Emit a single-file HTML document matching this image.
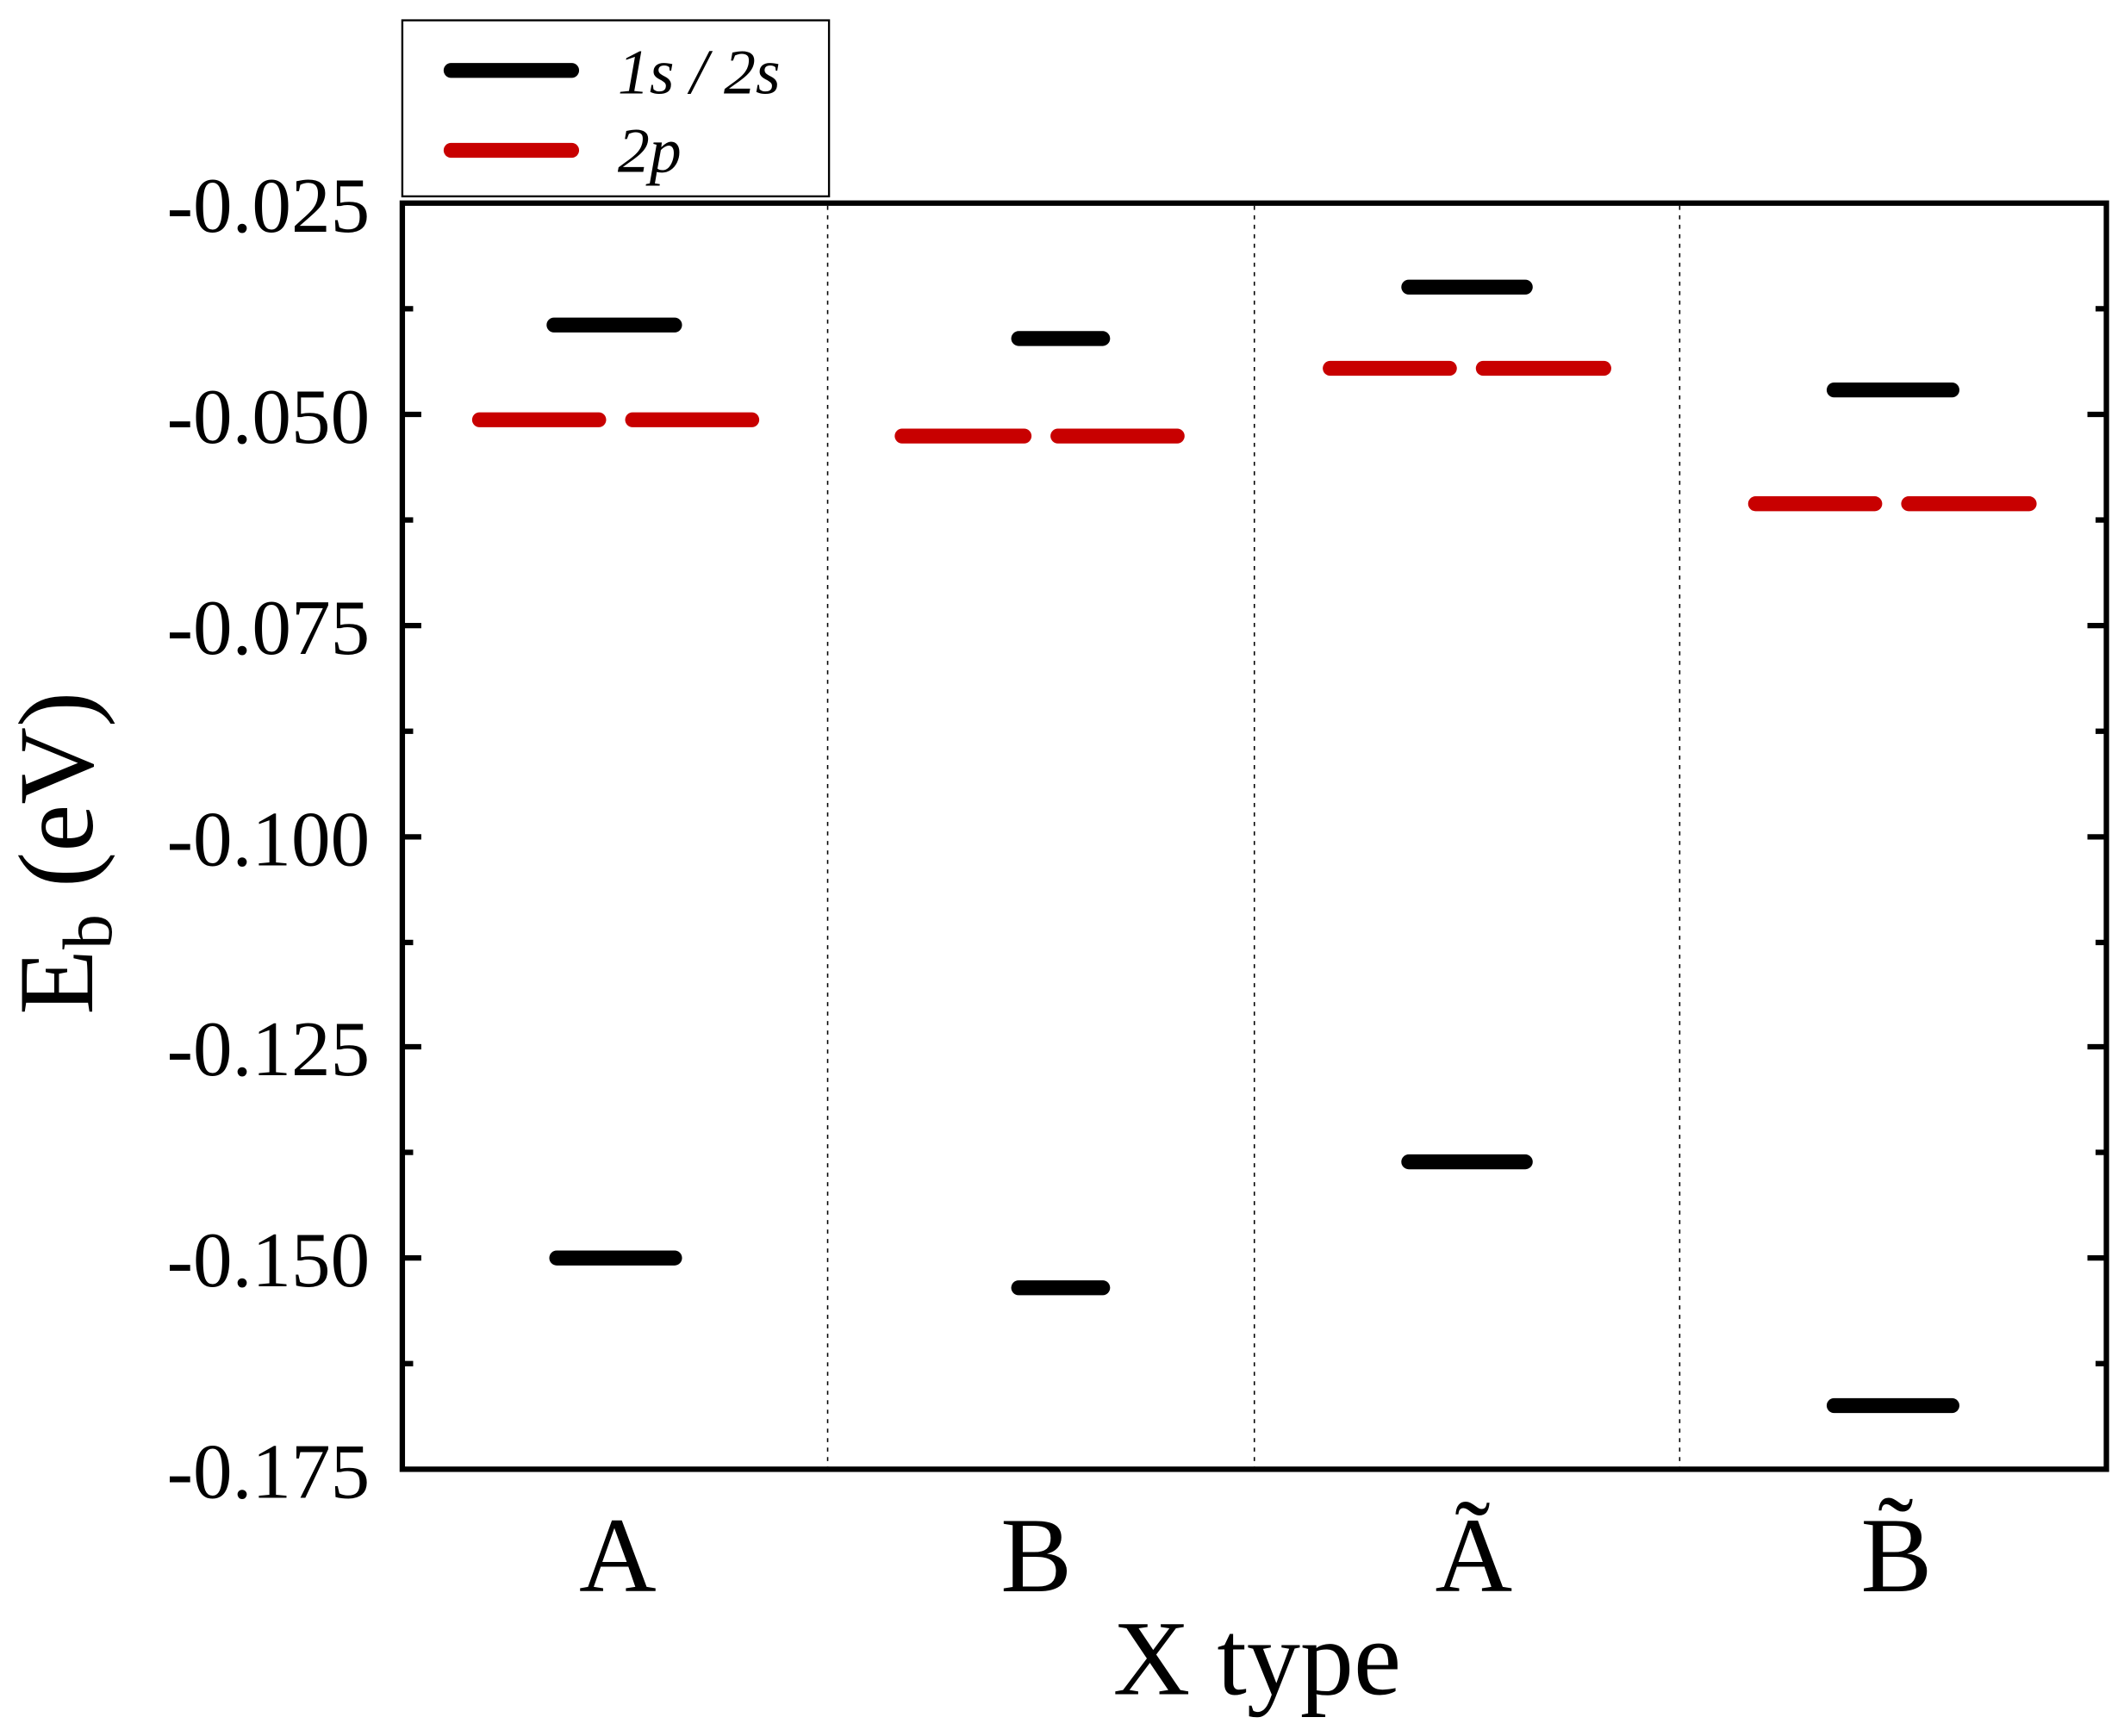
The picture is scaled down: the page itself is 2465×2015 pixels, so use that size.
<!DOCTYPE html>
<html><head><style>html,body{margin:0;padding:0;background:#fff}svg{display:block}</style></head>
<body>
<svg width="2465" height="2015" viewBox="0 0 1568 1282" preserveAspectRatio="none" xmlns="http://www.w3.org/2000/svg" font-family="Liberation Serif, serif">
<rect width="1568" height="1282" fill="#fff"/>
<g stroke="#000" stroke-width="1" stroke-dasharray="3,4">
<line x1="611" y1="152" x2="611" y2="1084"/>
<line x1="926" y1="152" x2="926" y2="1084"/>
<line x1="1240" y1="152" x2="1240" y2="1084"/>
</g>
<g stroke="#000" stroke-width="4">
<line x1="297" y1="306" x2="311" y2="306"/><line x1="297" y1="462" x2="311" y2="462"/><line x1="297" y1="618" x2="311" y2="618"/><line x1="297" y1="773" x2="311" y2="773"/><line x1="297" y1="929" x2="311" y2="929"/>
<line x1="297" y1="228" x2="305" y2="228"/><line x1="297" y1="384" x2="305" y2="384"/><line x1="297" y1="540" x2="305" y2="540"/><line x1="297" y1="696" x2="305" y2="696"/><line x1="297" y1="851" x2="305" y2="851"/><line x1="297" y1="1007" x2="305" y2="1007"/>
<line x1="1555" y1="306" x2="1541" y2="306"/><line x1="1555" y1="462" x2="1541" y2="462"/><line x1="1555" y1="618" x2="1541" y2="618"/><line x1="1555" y1="773" x2="1541" y2="773"/><line x1="1555" y1="929" x2="1541" y2="929"/>
<line x1="1555" y1="228" x2="1547" y2="228"/><line x1="1555" y1="384" x2="1547" y2="384"/><line x1="1555" y1="540" x2="1547" y2="540"/><line x1="1555" y1="696" x2="1547" y2="696"/><line x1="1555" y1="851" x2="1547" y2="851"/><line x1="1555" y1="1007" x2="1547" y2="1007"/>
</g>
<rect x="297" y="150" width="1258" height="935" fill="none" stroke="#000" stroke-width="4"/>
<g font-size="58" text-anchor="end" fill="#000">
<text x="273" y="171">-0.025</text>
<text x="273" y="327">-0.050</text>
<text x="273" y="483">-0.075</text>
<text x="273" y="639">-0.100</text>
<text x="273" y="794">-0.125</text>
<text x="273" y="950">-0.150</text>
<text x="273" y="1106">-0.175</text>
</g>
<g font-size="79" text-anchor="middle" fill="#000">
<text x="456" y="1175">A</text>
<text x="765" y="1175">B</text>
<text x="1088" y="1175">Ã</text>
<text x="1400" y="1175">B̃</text>
<text x="928" y="1251">X type</text>
</g>
<text transform="translate(68,630) rotate(-90)" font-size="79" text-anchor="middle" fill="#000">E<tspan font-size="52" dy="14">b</tspan><tspan dy="-14"> (eV)</tspan></text>
<g stroke-linecap="round" stroke-width="11">
<g stroke="#000">
<line x1="409" y1="240" x2="498" y2="240"/><line x1="411" y1="929" x2="498" y2="929"/>
<line x1="752" y1="250" x2="814" y2="250"/><line x1="752" y1="951" x2="814" y2="951"/>
<line x1="1040" y1="212" x2="1126" y2="212"/><line x1="1040" y1="858" x2="1126" y2="858"/>
<line x1="1354" y1="288" x2="1441" y2="288"/><line x1="1354" y1="1038" x2="1441" y2="1038"/>
</g>
<g stroke="#c80000">
<line x1="354" y1="310" x2="442" y2="310"/><line x1="467" y1="310" x2="555" y2="310"/>
<line x1="666" y1="322" x2="756" y2="322"/><line x1="781" y1="322" x2="869" y2="322"/>
<line x1="982" y1="272" x2="1070" y2="272"/><line x1="1095" y1="272" x2="1184" y2="272"/>
<line x1="1296" y1="372" x2="1384" y2="372"/><line x1="1409" y1="372" x2="1498" y2="372"/>
</g>
</g>
<rect x="297" y="15" width="315" height="130" fill="#fff" stroke="#000" stroke-width="1.5"/>
<g stroke-linecap="round" stroke-width="11">
<line x1="333" y1="52" x2="422" y2="52" stroke="#000"/>
<line x1="333" y1="111" x2="422" y2="111" stroke="#c80000"/>
</g>
<g font-size="47" font-style="italic" fill="#000">
<text x="456" y="69">1s / 2s</text>
<text x="456" y="127">2p</text>
</g>
</svg>
</body></html>
